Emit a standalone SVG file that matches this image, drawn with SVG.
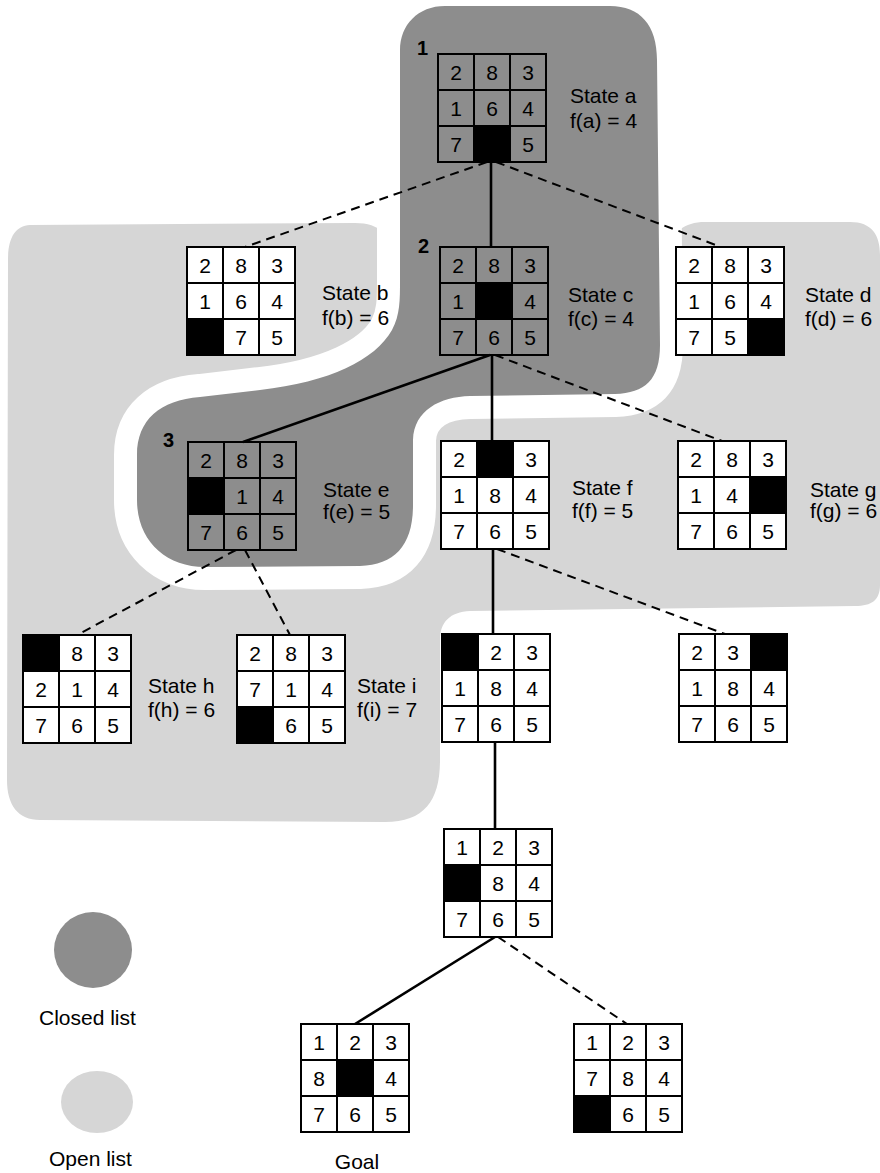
<svg xmlns="http://www.w3.org/2000/svg" xmlns:xlink="http://www.w3.org/1999/xlink" width="880" height="1173" viewBox="0 0 880 1173">
<style>
.lbl{font-family:"Liberation Sans",Arial,sans-serif;font-size:21px;fill:#000}
.num{font-family:"Liberation Sans",Arial,sans-serif;font-size:20px;font-weight:bold;fill:#000}
.d{font-family:"Liberation Sans",Arial,sans-serif;font-size:21px;fill:#000;text-anchor:middle}
.gl{fill:none;stroke:#000;stroke-width:2}
.wc{fill:#fff}
.blank{fill:#000}
.solid{stroke:#000;stroke-width:2.6;fill:none}
.dash{stroke:#000;stroke-width:2;fill:none;stroke-dasharray:9 6}
</style>
<defs>
<g id="gridlines">
<rect class="gl" x="0" y="0" width="108" height="108"/>
<path class="gl" d="M36,0V108M72,0V108M0,36H108M0,72H108"/>
</g>
<path id="closedShape" d="M445,6 L610,6 C640,6 657,25 657,60 L660,345 C660,380 645,393 615,394 L470,396 C440,397 414,410 413,440 L413,505 C413,545 395,565 360,566 L205,567 C165,567 137,540 137,500 L137,455 C137,420 160,400 200,397 L260,390 C330,382 375,360 392,330 C400,315 400,300 400,280 L400,50 C400,25 418,6 445,6 Z"/>
</defs>
<rect width="880" height="1173" fill="#fff"/>
<g id="regions">
<path id="open-region" fill="#d6d6d6" d="M30,225 L355,223 C380,223 392,236 396,256 L420,300 L640,300 L668,252 C672,232 684,222 705,222 L850,222 C872,222 880,235 880,255 L880,585 C880,600 872,606 855,606 L470,611 C450,612 440,622 440,640 L440,760 C440,800 425,822 385,822 L40,820 C18,820 7,805 7,780 L8,260 C8,238 15,226 30,225 Z"/>
<use xlink:href="#closedShape" fill="#fff" stroke="#fff" stroke-width="46" stroke-linejoin="round"/>
<use id="closed-region" xlink:href="#closedShape" fill="#8d8d8d"/>
</g>
<g id="connectors">
<line class="dash" x1="487" y1="162" x2="245" y2="247"/>
<line class="solid" x1="491" y1="162" x2="491" y2="247"/>
<line class="dash" x1="496" y1="162" x2="721" y2="247"/>
<line class="solid" x1="490" y1="355" x2="243" y2="442"/>
<line class="solid" x1="492" y1="355" x2="492" y2="441"/>
<line class="dash" x1="495" y1="355" x2="722" y2="441"/>
<line class="dash" x1="236" y1="550" x2="77" y2="635"/>
<line class="dash" x1="245" y1="550" x2="290" y2="635"/>
<line class="solid" x1="493" y1="549" x2="493" y2="634"/>
<line class="dash" x1="497" y1="549" x2="725" y2="634"/>
<line class="solid" x1="495" y1="742" x2="495" y2="829"/>
<line class="solid" x1="495" y1="937" x2="355" y2="1024"/>
<line class="dash" x1="498" y1="937" x2="627" y2="1024"/>
</g>
<g id="state-a" transform="translate(438,54)">
<rect class="blank" x="36" y="72" width="36" height="36"/>
<use xlink:href="#gridlines"/>
<text class="d" x="18" y="25.5">2</text><text class="d" x="54" y="25.5">8</text><text class="d" x="90" y="25.5">3</text>
<text class="d" x="18" y="61.5">1</text><text class="d" x="54" y="61.5">6</text><text class="d" x="90" y="61.5">4</text>
<text class="d" x="18" y="97.5">7</text><text class="d" x="90" y="97.5">5</text>
<text class="num" x="-21" y="1">1</text>
<text class="lbl" x="132" y="49">State a</text><text class="lbl" x="132" y="74">f(a) = 4</text>
</g>
<g id="state-b" transform="translate(187,247)">
<rect class="wc" width="108" height="108"/>
<rect class="blank" x="0" y="72" width="36" height="36"/>
<use xlink:href="#gridlines"/>
<text class="d" x="18" y="25.5">2</text><text class="d" x="54" y="25.5">8</text><text class="d" x="90" y="25.5">3</text>
<text class="d" x="18" y="61.5">1</text><text class="d" x="54" y="61.5">6</text><text class="d" x="90" y="61.5">4</text>
<text class="d" x="54" y="97.5">7</text><text class="d" x="90" y="97.5">5</text>
<text class="lbl" x="135" y="53">State b</text><text class="lbl" x="135" y="78">f(b) = 6</text>
</g>
<g id="state-c" transform="translate(440,247)">
<rect class="blank" x="36" y="36" width="36" height="36"/>
<use xlink:href="#gridlines"/>
<text class="d" x="18" y="25.5">2</text><text class="d" x="54" y="25.5">8</text><text class="d" x="90" y="25.5">3</text>
<text class="d" x="18" y="61.5">1</text><text class="d" x="90" y="61.5">4</text>
<text class="d" x="18" y="97.5">7</text><text class="d" x="54" y="97.5">6</text><text class="d" x="90" y="97.5">5</text>
<text class="num" x="-22" y="6">2</text>
<text class="lbl" x="128" y="55">State c</text><text class="lbl" x="128" y="79">f(c) = 4</text>
</g>
<g id="state-d" transform="translate(676,247)">
<rect class="wc" width="108" height="108"/>
<rect class="blank" x="72" y="72" width="36" height="36"/>
<use xlink:href="#gridlines"/>
<text class="d" x="18" y="25.5">2</text><text class="d" x="54" y="25.5">8</text><text class="d" x="90" y="25.5">3</text>
<text class="d" x="18" y="61.5">1</text><text class="d" x="54" y="61.5">6</text><text class="d" x="90" y="61.5">4</text>
<text class="d" x="18" y="97.5">7</text><text class="d" x="54" y="97.5">5</text>
<text class="lbl" x="129" y="55">State d</text><text class="lbl" x="129" y="79">f(d) = 6</text>
</g>
<g id="state-e" transform="translate(188,442)">
<rect class="blank" x="0" y="36" width="36" height="36"/>
<use xlink:href="#gridlines"/>
<text class="d" x="18" y="25.5">2</text><text class="d" x="54" y="25.5">8</text><text class="d" x="90" y="25.5">3</text>
<text class="d" x="54" y="61.5">1</text><text class="d" x="90" y="61.5">4</text>
<text class="d" x="18" y="97.5">7</text><text class="d" x="54" y="97.5">6</text><text class="d" x="90" y="97.5">5</text>
<text class="num" x="-25" y="5">3</text>
<text class="lbl" x="135" y="55">State e</text><text class="lbl" x="135" y="77">f(e) = 5</text>
</g>
<g id="state-f" transform="translate(441,441)">
<rect class="wc" width="108" height="108"/>
<rect class="blank" x="36" y="0" width="36" height="36"/>
<use xlink:href="#gridlines"/>
<text class="d" x="18" y="25.5">2</text><text class="d" x="90" y="25.5">3</text>
<text class="d" x="18" y="61.5">1</text><text class="d" x="54" y="61.5">8</text><text class="d" x="90" y="61.5">4</text>
<text class="d" x="18" y="97.5">7</text><text class="d" x="54" y="97.5">6</text><text class="d" x="90" y="97.5">5</text>
<text class="lbl" x="131" y="54">State f</text><text class="lbl" x="131" y="77">f(f) = 5</text>
</g>
<g id="state-g" transform="translate(678,441)">
<rect class="wc" width="108" height="108"/>
<rect class="blank" x="72" y="36" width="36" height="36"/>
<use xlink:href="#gridlines"/>
<text class="d" x="18" y="25.5">2</text><text class="d" x="54" y="25.5">8</text><text class="d" x="90" y="25.5">3</text>
<text class="d" x="18" y="61.5">1</text><text class="d" x="54" y="61.5">4</text>
<text class="d" x="18" y="97.5">7</text><text class="d" x="54" y="97.5">6</text><text class="d" x="90" y="97.5">5</text>
<text class="lbl" x="132" y="56">State g</text><text class="lbl" x="132" y="77">f(g) = 6</text>
</g>
<g id="state-h" transform="translate(23,635)">
<rect class="wc" width="108" height="108"/>
<rect class="blank" x="0" y="0" width="36" height="36"/>
<use xlink:href="#gridlines"/>
<text class="d" x="54" y="25.5">8</text><text class="d" x="90" y="25.5">3</text>
<text class="d" x="18" y="61.5">2</text><text class="d" x="54" y="61.5">1</text><text class="d" x="90" y="61.5">4</text>
<text class="d" x="18" y="97.5">7</text><text class="d" x="54" y="97.5">6</text><text class="d" x="90" y="97.5">5</text>
<text class="lbl" x="125" y="58">State h</text><text class="lbl" x="125" y="82">f(h) = 6</text>
</g>
<g id="state-i" transform="translate(237,635)">
<rect class="wc" width="108" height="108"/>
<rect class="blank" x="0" y="72" width="36" height="36"/>
<use xlink:href="#gridlines"/>
<text class="d" x="18" y="25.5">2</text><text class="d" x="54" y="25.5">8</text><text class="d" x="90" y="25.5">3</text>
<text class="d" x="18" y="61.5">7</text><text class="d" x="54" y="61.5">1</text><text class="d" x="90" y="61.5">4</text>
<text class="d" x="54" y="97.5">6</text><text class="d" x="90" y="97.5">5</text>
<text class="lbl" x="120" y="58">State i</text><text class="lbl" x="120" y="82">f(i) = 7</text>
</g>
<g id="state-f1" transform="translate(442,634)">
<rect class="wc" width="108" height="108"/>
<rect class="blank" x="0" y="0" width="36" height="36"/>
<use xlink:href="#gridlines"/>
<text class="d" x="54" y="25.5">2</text><text class="d" x="90" y="25.5">3</text>
<text class="d" x="18" y="61.5">1</text><text class="d" x="54" y="61.5">8</text><text class="d" x="90" y="61.5">4</text>
<text class="d" x="18" y="97.5">7</text><text class="d" x="54" y="97.5">6</text><text class="d" x="90" y="97.5">5</text>
</g>
<g id="state-f2" transform="translate(679,634)">
<rect class="wc" width="108" height="108"/>
<rect class="blank" x="72" y="0" width="36" height="36"/>
<use xlink:href="#gridlines"/>
<text class="d" x="18" y="25.5">2</text><text class="d" x="54" y="25.5">3</text>
<text class="d" x="18" y="61.5">1</text><text class="d" x="54" y="61.5">8</text><text class="d" x="90" y="61.5">4</text>
<text class="d" x="18" y="97.5">7</text><text class="d" x="54" y="97.5">6</text><text class="d" x="90" y="97.5">5</text>
</g>
<g id="state-r5" transform="translate(444,829)">
<rect class="wc" width="108" height="108"/>
<rect class="blank" x="0" y="36" width="36" height="36"/>
<use xlink:href="#gridlines"/>
<text class="d" x="18" y="25.5">1</text><text class="d" x="54" y="25.5">2</text><text class="d" x="90" y="25.5">3</text>
<text class="d" x="54" y="61.5">8</text><text class="d" x="90" y="61.5">4</text>
<text class="d" x="18" y="97.5">7</text><text class="d" x="54" y="97.5">6</text><text class="d" x="90" y="97.5">5</text>
</g>
<g id="state-goal" transform="translate(301,1024)">
<rect class="wc" width="108" height="108"/>
<rect class="blank" x="36" y="36" width="36" height="36"/>
<use xlink:href="#gridlines"/>
<text class="d" x="18" y="25.5">1</text><text class="d" x="54" y="25.5">2</text><text class="d" x="90" y="25.5">3</text>
<text class="d" x="18" y="61.5">8</text><text class="d" x="90" y="61.5">4</text>
<text class="d" x="18" y="97.5">7</text><text class="d" x="54" y="97.5">6</text><text class="d" x="90" y="97.5">5</text>
<text class="lbl" x="56" y="145" text-anchor="middle">Goal</text>
</g>
<g id="state-r6" transform="translate(574,1024)">
<rect class="wc" width="108" height="108"/>
<rect class="blank" x="0" y="72" width="36" height="36"/>
<use xlink:href="#gridlines"/>
<text class="d" x="18" y="25.5">1</text><text class="d" x="54" y="25.5">2</text><text class="d" x="90" y="25.5">3</text>
<text class="d" x="18" y="61.5">7</text><text class="d" x="54" y="61.5">8</text><text class="d" x="90" y="61.5">4</text>
<text class="d" x="54" y="97.5">6</text><text class="d" x="90" y="97.5">5</text>
</g>
<g id="legend-closed">
<ellipse cx="93" cy="950" rx="39" ry="38" fill="#8d8d8d"/>
<text class="lbl" x="39" y="1025">Closed list</text>
</g>
<g id="legend-open">
<ellipse cx="97" cy="1102" rx="36" ry="31" fill="#d6d6d6"/>
<text class="lbl" x="49" y="1166">Open list</text>
</g>
</svg>
